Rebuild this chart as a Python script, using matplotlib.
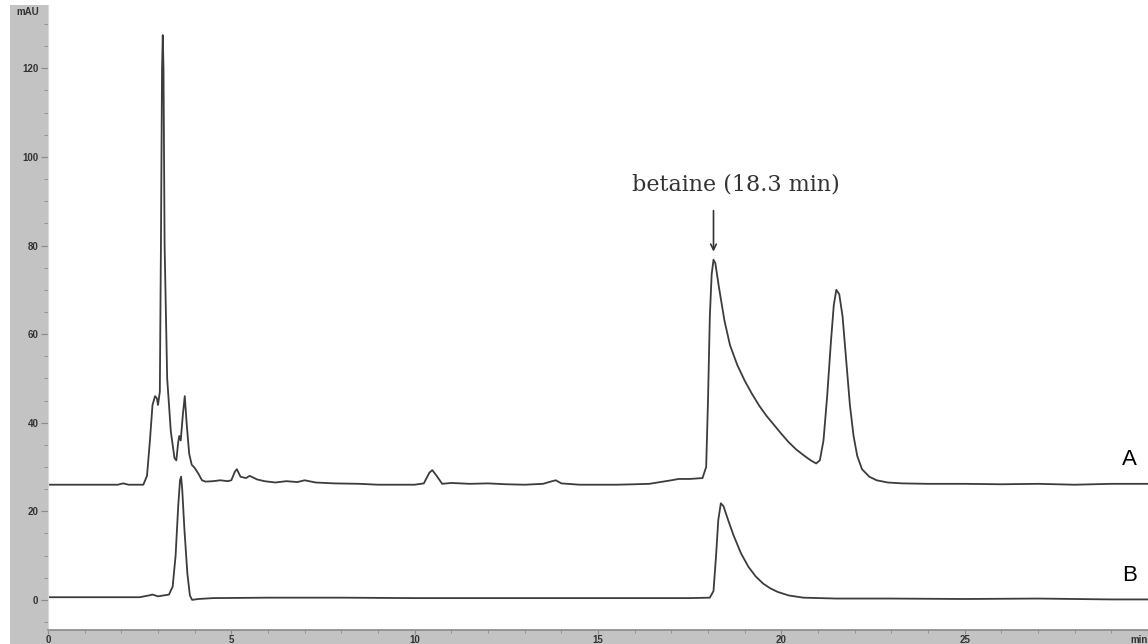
import matplotlib
matplotlib.use("Agg")
import matplotlib.pyplot as plt
from matplotlib.patches import Rectangle

# retention time (min) and absorbance (mAU), trace A (sample)
time_a = [0.0, 1.9, 2.05, 2.2, 2.6, 2.7, 2.78, 2.85, 2.92, 2.97, 3.0, 3.05, 3.08, 3.11,
          3.13, 3.15, 3.18, 3.25, 3.35, 3.45, 3.5, 3.55, 3.58, 3.62, 3.68, 3.73, 3.78,
          3.85, 3.92, 4.0, 4.1, 4.2, 4.3, 4.5, 4.7, 4.9, 5.0, 5.1, 5.15, 5.25, 5.4, 5.5,
          5.7, 5.9, 6.2, 6.5, 6.8, 7.0, 7.3, 7.8, 8.5, 9.0, 9.5, 10.0, 10.25, 10.4, 10.48,
          10.6, 10.75, 11.0, 11.5, 12.0, 12.5, 13.0, 13.5, 13.75, 13.85, 14.0, 14.5, 15.5,
          16.0, 16.4, 16.7, 17.0, 17.2, 17.5, 17.85, 17.95, 18.0, 18.05, 18.1, 18.15, 18.2,
          18.3, 18.45, 18.6, 18.8, 19.0, 19.2, 19.4, 19.6, 19.8, 20.0, 20.2, 20.4, 20.6,
          20.8, 20.95, 21.05, 21.15, 21.25, 21.35, 21.43, 21.5, 21.58, 21.67, 21.77, 21.87,
          21.97, 22.07, 22.2, 22.4, 22.6, 22.9, 23.3, 24.0, 25.0, 26.0, 27.0, 28.0, 29.0, 30.0]
mau_a = [26.0, 26.0, 26.3, 26.0, 26.0, 28.0, 36.0, 44.0, 46.0, 45.5, 44.0, 47.0, 80.0, 120.0,
         127.5, 120.0, 80.0, 50.0, 38.0, 32.0, 31.5, 35.5, 37.0, 36.0, 42.0, 46.0, 40.0,
         33.0, 30.5, 29.8, 28.5, 27.0, 26.7, 26.8, 27.0, 26.8, 27.0, 29.0, 29.5, 27.8, 27.5, 28.0,
         27.2, 26.8, 26.5, 26.8, 26.6, 27.0, 26.5, 26.3, 26.2, 26.0, 26.0, 26.0, 26.3, 28.7, 29.3,
         28.0, 26.2, 26.4, 26.2, 26.3, 26.1, 26.0, 26.2, 26.8, 27.0, 26.3, 26.0, 26.0,
         26.1, 26.2, 26.6, 27.0, 27.3, 27.3, 27.5, 30.0, 45.0, 64.0, 73.5, 76.8, 76.0,
         70.5, 63.0, 57.5, 53.0, 49.5, 46.5, 43.8, 41.5, 39.5, 37.5, 35.6, 34.0, 32.7,
         31.5, 30.8, 31.5, 36.0, 46.0, 58.0, 66.5, 70.0, 69.0, 64.0, 54.0, 44.0,
         37.0, 32.5, 29.5, 27.8, 27.0, 26.5, 26.3, 26.2, 26.2, 26.1, 26.2, 26.0, 26.2, 26.2]

# trace B (betaine standard)
time_b = [0.0, 2.5, 2.75, 2.85, 3.0, 3.3, 3.4, 3.48, 3.55, 3.6, 3.63, 3.66, 3.72, 3.8, 3.87,
          3.93, 4.1, 4.5, 6.0, 8.0, 10.0, 12.0, 14.0, 16.0, 17.5, 18.05, 18.15, 18.22, 18.28,
          18.35, 18.42, 18.55, 18.7, 18.9, 19.1, 19.3, 19.5, 19.7, 19.9, 20.2, 20.6, 21.5,
          23.0, 25.0, 27.0, 29.0, 30.0]
mau_b = [0.6, 0.6, 1.0, 1.2, 0.8, 1.2, 3.0, 10.0, 21.0, 27.0, 27.8, 25.0, 16.0, 6.0, 1.0,
         0.0, 0.2, 0.4, 0.5, 0.5, 0.4, 0.4, 0.4, 0.4, 0.4, 0.5, 2.0, 10.0, 18.0,
         21.8, 21.2, 18.0, 14.5, 10.5, 7.5, 5.3, 3.7, 2.6, 1.8, 1.0, 0.5, 0.3,
         0.3, 0.2, 0.3, 0.1, 0.1]

x_ticks = [0, 5, 10, 15, 20, 25, 30]
x_labels = ["0", "5", "10", "15", "20", "25", "min"]
y_ticks = [0, 20, 40, 60, 80, 100, 120]

betaine_rt = 18.15
betaine_top = 78.0

W, H = 1148, 644
fig = plt.figure(figsize=(W / 100, H / 100), dpi=100)
panel = "#c3c3c3"
# gray frame behind the axis labels
fig.patches.append(Rectangle((10 / W, 0), 39 / W, 639 / H, transform=fig.transFigure,
                             facecolor=panel, edgecolor="none", zorder=-5))
fig.patches.append(Rectangle((43 / W, 0), 1 - 43 / W, 14 / H, transform=fig.transFigure,
                             facecolor=panel, edgecolor="none", zorder=-5))

ax = fig.add_axes([48 / W, 14 / H, 1 - 48 / W, 625 / H])
ax.set_zorder(2)
ax.set_facecolor("white")
lc = "#3c3c3c"
ax.plot(time_a, mau_a, color=lc, lw=1.3)
ax.plot(time_b, mau_b, color=lc, lw=1.3)

ax.set_xlim(0, 30)
ax.set_ylim(-6.8, 134.3)
for s in ["top", "right"]:
    ax.spines[s].set_visible(False)
ax.spines["left"].set_color("#d8d8d8")
ax.spines["bottom"].set_color("#8a8a8a")
ax.spines["bottom"].set_linewidth(1.2)

ax.set_xticks(x_ticks)
ax.set_xticklabels(x_labels)
ax.set_xticks(range(0, 31), minor=True)
ax.set_yticks(y_ticks)
ax.set_yticks(range(-5, 135, 5), minor=True)
ax.tick_params(axis="both", which="both", color="#8a8a8a", labelcolor="#333333",
               labelsize=7)
ax.tick_params(axis="x", which="major", length=3, pad=0.5)
ax.tick_params(axis="x", which="minor", length=2)
ax.tick_params(axis="y", which="major", length=5, pad=2)
ax.tick_params(axis="y", which="minor", length=3)
for t in ax.get_xticklabels() + ax.get_yticklabels():
    t.set_fontweight("bold")
    t.set_family("Liberation Sans")
ax.get_xticklabels()[-1].set_horizontalalignment("right")

fig.text(28 / W, 1 - 12 / H, "mAU", ha="center", va="center", fontsize=7,
         fontweight="bold", color="#333333", family="Liberation Sans")

# peak label for betaine
ax.text(18.77, 93.7, "betaine (18.3 min)", ha="center", va="center", fontsize=16,
        family="DejaVu Serif", color="#333333")
ax.annotate("", xy=(betaine_rt, betaine_top), xytext=(betaine_rt, 88.5),
            arrowprops=dict(arrowstyle="->", color="#333333", lw=1.2))

ax.text(29.49, 31.6, "A", ha="center", va="center", fontsize=16,
        family="Liberation Sans", color="black")
ax.text(29.49, 5.4, "B", ha="center", va="center", fontsize=16,
        family="Liberation Sans", color="black")

fig.savefig("out.png", dpi=100)
